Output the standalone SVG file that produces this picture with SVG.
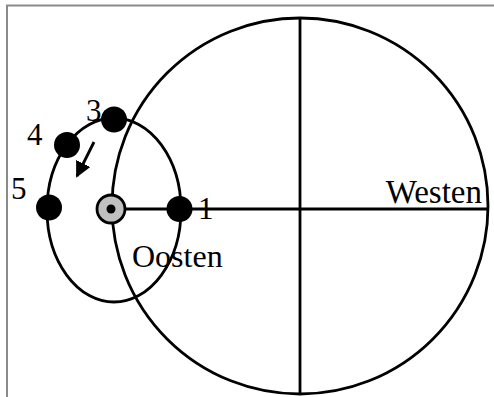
<svg xmlns="http://www.w3.org/2000/svg" width="494" height="397" viewBox="0 0 494 397">
<style>
.ln{fill:none;stroke:#000;stroke-width:2.8}
.dot{fill:#000}
.lbl{font-family:"Liberation Serif","Times New Roman",serif;fill:#000}
</style>
<defs>
<marker id="ah" markerWidth="16" markerHeight="16" refX="14" refY="8" orient="auto" markerUnits="userSpaceOnUse">
<path d="M0,0 L16,8 L0,16 Z" fill="#000"/>
</marker>
</defs>
<rect width="494" height="397" fill="#fff"/>
<path d="M7,397 V5.5 H494" fill="none" stroke="#8a8a8a" stroke-width="2"/>
<g id="orbit-large">
<circle class="ln" cx="300" cy="206" r="188"/>
<line class="ln" x1="300" y1="18" x2="300" y2="394"/>
<line class="ln" x1="111" y1="209" x2="487" y2="209"/>
</g>
<g id="orbit-small">
<ellipse class="ln" cx="114" cy="210" rx="67" ry="92"/>
</g>
<g id="center">
<circle cx="111" cy="209" r="14" fill="#c0c0c0" stroke="#000" stroke-width="2.8"/>
<circle class="dot" cx="111" cy="209" r="4.5"/>
</g>
<g id="p1"><circle class="dot" cx="179.5" cy="209" r="13"/><text class="lbl" x="198" y="219" font-size="31">1</text></g>
<g id="p3"><circle class="dot" cx="114" cy="119.5" r="13"/><text class="lbl" x="86" y="121" font-size="31">3</text></g>
<g id="p4"><circle class="dot" cx="67" cy="145" r="13"/><text class="lbl" x="27" y="145" font-size="31">4</text></g>
<g id="p5"><circle class="dot" cx="49" cy="207.5" r="13"/><text class="lbl" x="11" y="199" font-size="31">5</text></g>
<g id="connectors">
<line x1="94" y1="142" x2="77" y2="176" stroke="#000" stroke-width="2.8" marker-end="url(#ah)"/>
</g>
<text class="lbl" x="132" y="267" font-size="32">Oosten</text>
<text class="lbl" x="482" y="203" font-size="33" text-anchor="end">Westen</text>
</svg>
